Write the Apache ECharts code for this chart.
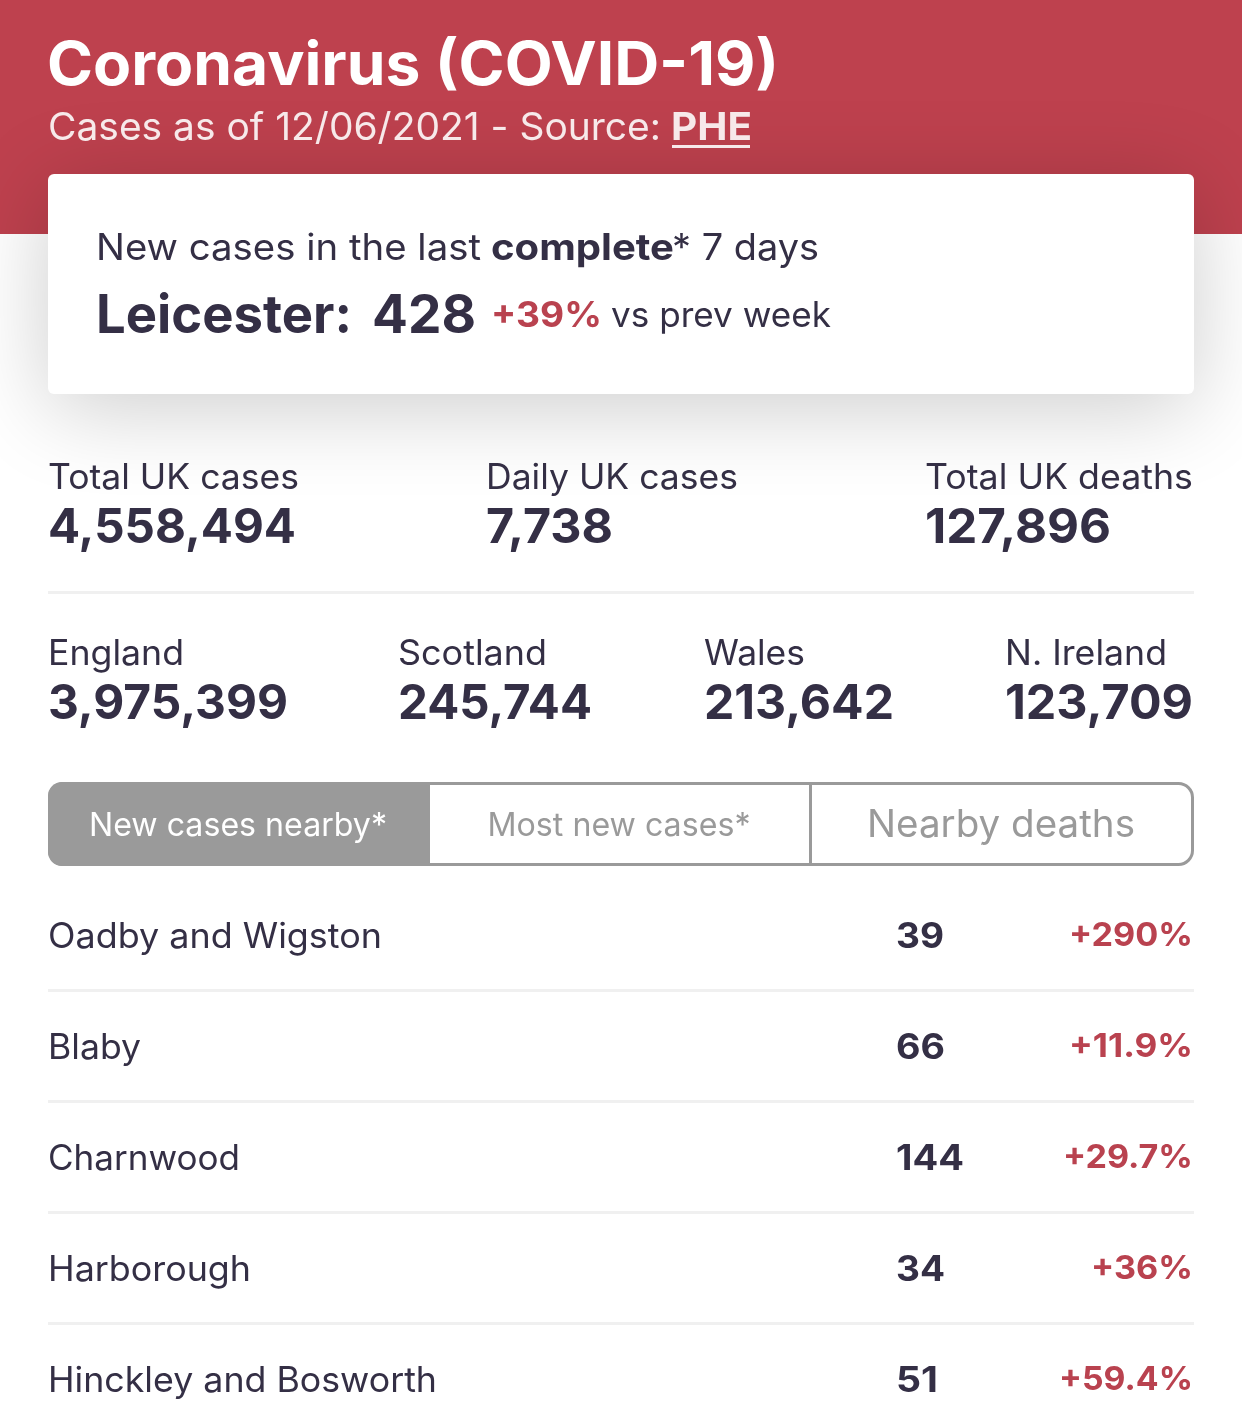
<!DOCTYPE html>
<html><head><meta charset="utf-8">
<style>html,body{margin:0;padding:0;background:#fff}#c{width:1242px;height:1428px}</style>
<script src="https://cdn.jsdelivr.net/npm/echarts@6/dist/echarts.min.js"></script>
</head><body><div id="c"></div>
<script>
const titleText = 'Coronavirus (COVID-19)';
const subtitleText = 'Cases as of 12/06/2021 - Source:';
const sourceText = 'PHE';
const headlineArea = 'Leicester:';
const headlineValue = '428';
const headlineChange = '+39%';
const ukLabels = ['Total UK cases','Daily UK cases','Total UK deaths'];
const ukValues = ['4,558,494','7,738','127,896'];
const nationLabels = ['England','Scotland','Wales','N. Ireland'];
const nationValues = ['3,975,399','245,744','213,642','123,709'];
const tabs = ['New cases nearby*','Most new cases*','Nearby deaths'];
const areaNames = ['Oadby and Wigston','Blaby','Charnwood','Harborough','Hinckley and Bosworth'];
const areaCases = [39,66,144,34,51];
const areaChanges = ['+290%','+11.9%','+29.7%','+36%','+59.4%'];

const INK='#342f45', RED='#b9424f', HEAD='#be414e', GREY='#9a9a9a', RULE='#f0f0f0';
const FONT='Inter';
const els=[];
const mctx=document.createElement('canvas').getContext('2d');
// w = width the text should occupy in the layout (horizontal fit)
function t(text,x,y,size,weight,fill,align,w){
  text=String(text);
  let sx=1;
  if(w){mctx.font=weight+' '+size+'px '+FONT;sx=w/mctx.measureText(text).width;}
  els.push({type:'text',z:10,x:x,y:y,scaleX:sx,style:{text:text,x:0,y:0,fontFamily:FONT,fontSize:size,fontWeight:weight,fill:fill,align:align||'left',verticalAlign:'middle'}});
}
function r(x,y,w,h,fill,extra,z){
  els.push({type:'rect',z:z||2,shape:Object.assign({x:x,y:y,width:w,height:h},extra&&extra.shape||{}),style:Object.assign({fill:fill},extra&&extra.style||{})});
}
r(0,0,1242,234,HEAD,null,1);
r(48,174,1146,220,'#fff',{shape:{r:6},style:{shadowBlur:90,shadowColor:'rgba(0,0,0,0.2)',shadowOffsetY:14}},3);
t(titleText,47,67,60,700,'#fff','left',732);
t(subtitleText,48,129,38,400,'#f7e9ea','left',613);
t(sourceText,671,129,38,700,'#f7e9ea','left',81);
r(672,145,78,3,'#f7e9ea',null,4);
t('New cases in the last',96,249,37,400,INK,'left',385);
t('complete',491,249,37,700,INK,'left',183);
t('* 7 days',672,249,37,400,INK,'left',147);
t(headlineArea,96,317,53,700,INK,'left',256);
t(headlineValue,372,317,53,700,INK,'left',104);
t(headlineChange,491,316,35,700,RED,'left',111);
t('vs prev week',611,316,35,400,INK,'left',220);
const ukX=[48,486,925], ukW=[251,252,268], ukVW=[248,127,186];
ukLabels.forEach((s,i)=>{t(s,ukX[i],478,35,400,INK,'left',ukW[i]);t(ukValues[i],ukX[i],529,48,700,INK,'left',ukVW[i]);});
r(48,591,1146,3,RULE);
const nX=[48,398,704,1005], nW=[136,149,101,162], nVW=[240,194,190,188];
nationLabels.forEach((s,i)=>{t(s,nX[i],654,35,400,INK,'left',nW[i]);t(nationValues[i],nX[i],705,48,700,INK,'left',nVW[i]);});
// tabs
r(49.5,783.5,1143,81,'#fff',{shape:{r:14},style:{stroke:GREY,lineWidth:3}},2);
r(48,782,382,84,GREY,{shape:{r:[14,0,0,14]}},3);
r(809,784,3,80,GREY,null,3);
t(tabs[0],238,826,33,400,'#fff','center',298);
t(tabs[1],619,826,33,400,GREY,'center',263);
t(tabs[2],1001,826,38,400,GREY,'center',268);
// rows
const nameW=[334,93,192,203,389], caseW=[48,49,68,49,42], chgW=[124,124,130,102,134];
areaNames.forEach((s,i)=>{
  const y=937+i*111;
  t(s,48,y,35,400,INK,'left',nameW[i]);
  t(areaCases[i],896,y,35,700,INK,'left',caseW[i]);
  t(areaChanges[i],1193,y-1,33,700,RED,'right',chgW[i]);
  if(i<areaNames.length-1) r(48,y+52,1146,3,RULE);
});
const chart=echarts.init(document.getElementById('c'),null,{renderer:'canvas',width:1242,height:1428});
chart.setOption({animation:false,backgroundColor:'#fff',graphic:{elements:els}});
</script></body></html>
